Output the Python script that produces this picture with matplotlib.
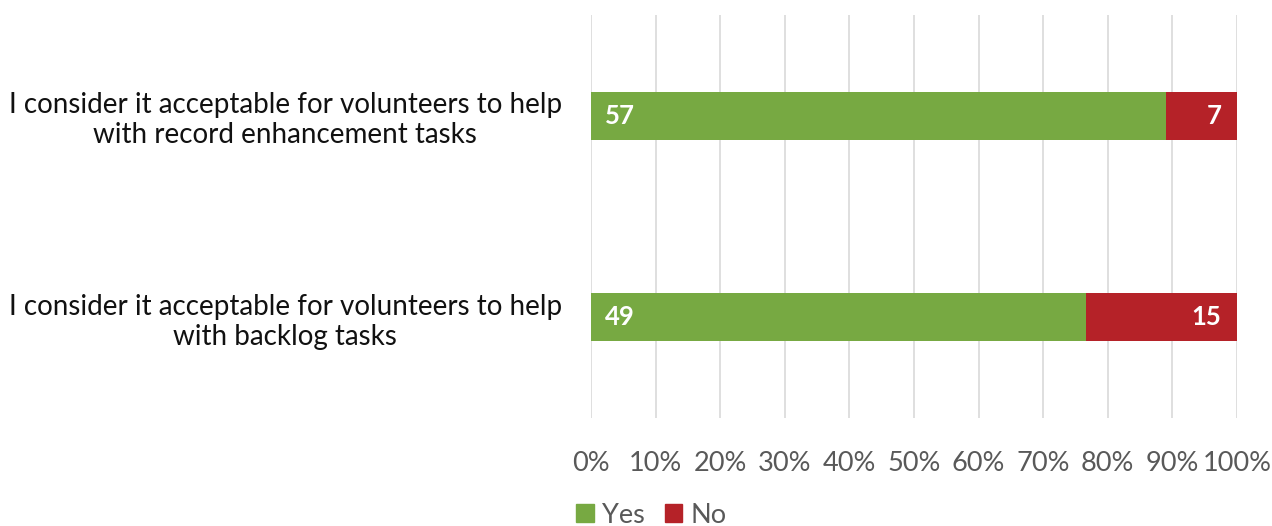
import numpy as np
import matplotlib
matplotlib.use('Agg')
import matplotlib.pyplot as plt
from matplotlib.patches import Patch

plt.rcParams['font.family'] = ['Lato', 'DejaVu Sans']

# data
questions = ['I consider it acceptable for volunteers to help\nwith record enhancement tasks',
             'I consider it acceptable for volunteers to help\nwith backlog tasks']
yes = np.array([57, 49])
no = np.array([7, 15])
series_names = ['Yes', 'No']
colors = ['#77A942', '#B52228']
ticks = [0, 10, 20, 30, 40, 50, 60, 70, 80, 90, 100]

total = yes + no
yes_pct = yes / total * 100
no_pct = no / total * 100

fig = plt.figure(figsize=(12.72, 5.26), dpi=100)
ax = fig.add_axes([0.4646, 0.2053, 0.5079, 0.7662])

y = np.arange(len(questions))
h = 0.24
ax.barh(y, yes_pct, height=h, color=colors[0], zorder=3)
ax.barh(y, no_pct, left=yes_pct, height=h, color=colors[1], zorder=3)

# value labels
for i in range(len(questions)):
    ax.text(2.2, y[i], str(yes[i]), color='white', fontweight='bold',
            fontsize=18.5, ha='left', va='center', zorder=4)
    ax.text(100 - 2.4, y[i], str(no[i]), color='white', fontweight='bold',
            fontsize=18.5, ha='right', va='center', zorder=4)

ax.set_xlim(0, 100)
ax.set_ylim(1.5, -0.5)
ax.set_xticks(ticks)
ax.set_xticklabels([f'{t}%' for t in ticks])
ax.set_yticks(y)
ax.set_yticklabels(questions, fontsize=20, color='#111111', ha='center',
                   linespacing=1.2)
ax.tick_params(axis='y', length=0, pad=220)   # pad in points -> centre near x=286px
ax.tick_params(axis='x', length=0, labelsize=19.5, labelcolor='#595959', pad=24)
ax.grid(axis='x', color='#D9D9D9', linewidth=1.2, zorder=0)
for s in ax.spines.values():
    s.set_visible(False)

handles = [Patch(color=colors[0]), Patch(color=colors[1])]
fig.legend(handles, series_names, loc='lower center', bbox_to_anchor=(0.512, -0.05),
           ncol=2, frameon=False, fontsize=19.5, labelcolor='#595959',
           handlelength=0.65, handleheight=0.65, handletextpad=0.3, columnspacing=0.75)

fig.savefig('out.png', dpi=100)
